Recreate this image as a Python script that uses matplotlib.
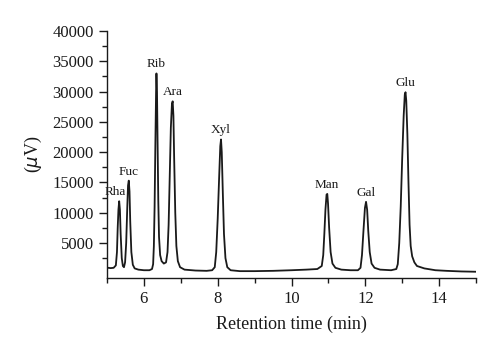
import numpy as np
import matplotlib
matplotlib.use('Agg')
import matplotlib.pyplot as plt
from matplotlib.ticker import MultipleLocator

# chromatogram trace (min, uV)
rt = [5.03, 5.10, 5.18, 5.24, 5.27, 5.29, 5.31, 5.33, 5.35, 5.37, 5.40, 5.43, 5.46,
      5.49, 5.52, 5.55, 5.57, 5.59, 5.61, 5.63, 5.66, 5.70, 5.75, 5.85, 6.00, 6.15,
      6.22, 6.25, 6.27, 6.29, 6.31, 6.33, 6.34, 6.355, 6.37, 6.39, 6.41, 6.44, 6.48,
      6.54, 6.60, 6.64, 6.67, 6.70, 6.73, 6.76, 6.78, 6.80, 6.82, 6.85, 6.88, 6.92,
      6.98, 7.10, 7.40, 7.70, 7.85, 7.92, 7.96, 8.00, 8.04, 8.07, 8.09, 8.11, 8.14,
      8.17, 8.21, 8.26, 8.35, 8.60, 9.00, 9.50, 10.0, 10.4, 10.7, 10.82, 10.86, 10.89,
      10.92, 10.95, 10.97, 10.99, 11.02, 11.06, 11.11, 11.19, 11.35, 11.6, 11.8, 11.87,
      11.91, 11.95, 11.99, 12.02, 12.05, 12.08, 12.12, 12.17, 12.25, 12.4, 12.7, 12.84,
      12.88, 12.92, 12.96, 13.00, 13.04, 13.07, 13.09, 13.11, 13.14, 13.17, 13.20,
      13.23, 13.27, 13.33, 13.4, 13.6, 13.9, 14.2, 14.6, 15.0]
signal = [900, 850, 900, 1300, 3500, 7500, 10500, 11900, 10500, 6500, 2500, 1200, 1000,
          1800, 5000, 11000, 14500, 15300, 13500, 8500, 3500, 1400, 800, 600, 500, 500,
          700, 1500, 4500, 11000, 21000, 30000, 33000, 30000, 22000, 12000, 6000, 3000, 2000,
          1600, 1800, 3500, 8000, 16000, 24000, 28000, 28400, 26000, 19000, 10000, 4500, 2000,
          1000, 600, 450, 400, 500, 1000, 3500, 9000, 16000, 21000, 22100, 20000, 13000,
          6500, 2500, 1000, 500, 350, 350, 400, 500, 600, 700, 1200, 3000, 6500,
          10500, 13000, 13100, 11500, 7500, 3500, 1600, 900, 600, 500, 500, 900,
          3000, 7000, 10800, 11800, 10500, 7000, 3500, 1600, 900, 600, 500, 700,
          1500, 5000, 11000, 19000, 26000, 29500, 29900, 28500, 23000, 15000, 8000,
          4500, 2800, 1800, 1200, 800, 500, 400, 300, 250]

peak_names = ['Rha', 'Fuc', 'Rib', 'Ara', 'Xyl', 'Man', 'Gal', 'Glu']
peak_rt = [5.33, 5.59, 6.34, 6.78, 8.09, 10.97, 12.02, 13.09]
peak_top = [11900, 15300, 33000, 28400, 22100, 13100, 11800, 29900]

plt.rcParams['font.family'] = ['Liberation Serif', 'DejaVu Serif']

fig = plt.figure(figsize=(5, 3.57), dpi=100)
ax = fig.add_axes([0.214, 0.221, 0.738, 0.692])

ax.plot(rt, signal, color='#1a1a1a', linewidth=1.3)

for name, x, y in zip(peak_names, peak_rt, peak_top):
    dx = -3 if name == 'Rha' else 0
    ax.annotate(name, xy=(x, y), xytext=(dx, 6.5), textcoords='offset points',
                ha='center', va='center', fontsize=9.5, color='#1a1a1a')

ax.set_xlim(5, 15)
ax.set_ylim(-800, 40000)
ax.xaxis.set_major_locator(MultipleLocator(2))
ax.xaxis.set_minor_locator(MultipleLocator(1))
ax.set_yticks(np.arange(5000, 40001, 5000))
ax.set_yticks(np.arange(2500, 40001, 5000), minor=True)

for s in ['top', 'right']:
    ax.spines[s].set_visible(False)
for s in ['left', 'bottom']:
    ax.spines[s].set_linewidth(1.0)
    ax.spines[s].set_color('#1a1a1a')

ax.tick_params(which='major', direction='out', length=6, width=1.0,
               labelsize=12, colors='#1a1a1a')
ax.tick_params(which='minor', direction='out', length=3.5, width=1.0, colors='#1a1a1a')

ax.set_xlabel('Retention time (min)', fontsize=13, color='#1a1a1a', labelpad=6)
ax.set_ylabel(r'($\mu$V)', fontsize=13, color='#1a1a1a', labelpad=6)

fig.savefig('out.png', dpi=100)
